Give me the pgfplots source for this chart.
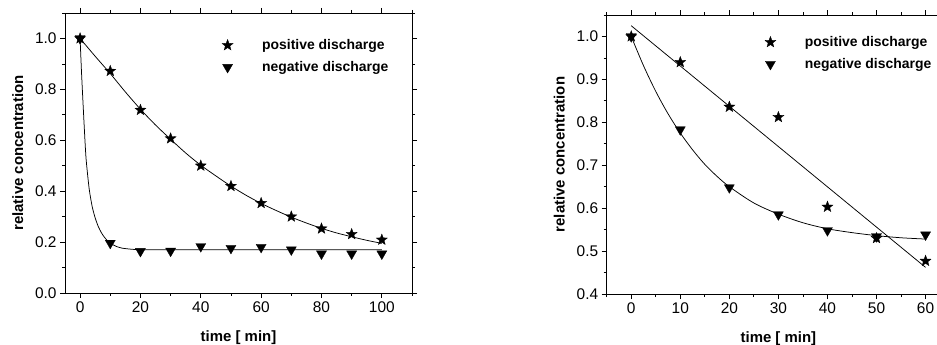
\documentclass[border=0pt]{standalone}
\usepackage{pgfplots}
\pgfplotsset{compat=1.18}
\usepackage{fontspec}
\setmainfont{Liberation Sans}

\pgfdeclareplotmark{fstar}{%
  \pgfpathmoveto{\pgfpointpolar{90}{\pgfplotmarksize}}%
  \pgfpathlineto{\pgfpointpolar{126}{0.42\pgfplotmarksize}}%
  \pgfpathlineto{\pgfpointpolar{162}{\pgfplotmarksize}}%
  \pgfpathlineto{\pgfpointpolar{198}{0.42\pgfplotmarksize}}%
  \pgfpathlineto{\pgfpointpolar{234}{\pgfplotmarksize}}%
  \pgfpathlineto{\pgfpointpolar{270}{0.42\pgfplotmarksize}}%
  \pgfpathlineto{\pgfpointpolar{306}{\pgfplotmarksize}}%
  \pgfpathlineto{\pgfpointpolar{342}{0.42\pgfplotmarksize}}%
  \pgfpathlineto{\pgfpointpolar{18}{\pgfplotmarksize}}%
  \pgfpathlineto{\pgfpointpolar{54}{0.42\pgfplotmarksize}}%
  \pgfpathclose
  \pgfusepathqfillstroke
}

\pgfplotsset{
  common/.style={
    scale only axis,
    tick align=outside,
    axis line style={line width=0.9bp},
    every tick/.style={line width=0.8bp, black},
    major tick length=5bp,
    minor tick length=3bp,
    /pgf/number format/assume math mode=true,
    xticklabel={\pgfmathprintnumber{\tick}},
    yticklabel={\pgfmathprintnumber[fixed, fixed zerofill, precision=1]{\tick}},
    tick label style={font=\fontsize{15.5}{18}\selectfont},
    label style={font=\bfseries\fontsize{15}{18}\selectfont},
    xlabel style={yshift=-11bp},
    ylabel style={yshift=5bp},
    legend cell align=left,
    legend style={draw=none, fill=none, font=\bfseries\fontsize{14}{17}\selectfont,
      row sep=6bp,
      nodes={inner sep=1bp, text height=11bp, text depth=3bp},
      /tikz/every odd column/.style={column sep=28bp}},
  },
  starstyle/.style={only marks, mark=fstar, mark size=5.8bp, black, mark options={line width=0.3bp}},
  tristyle/.style={only marks, mark=triangle*, mark size=5.8bp, black, mark options={rotate=180, line width=0.3bp}},
  fitstyle/.style={no marks, black, line width=0.75bp, smooth, tension=0.5, forget plot},
}

\begin{document}
\begin{tikzpicture}
\path[use as bounding box] (0,0) rectangle (937bp,345bp);

% ---------- left chart ----------
\begin{axis}[common,
  at={(65bp,52bp)}, anchor=south west,
  width=347bp, height=280bp,
  xmin=-5, xmax=110, ymin=0, ymax=1.1,
  xtick={0,20,...,100}, minor xtick={10,30,...,110},
  ytick={0,0.2,...,1.0}, minor ytick={0.1,0.3,...,1.1},
  xlabel={time [ min]}, ylabel={relative concentration},
  legend style={at={(axis cs:46.0,0.93)}, anchor=west},
]
\addplot[fitstyle] coordinates {
 (0,1.0) (5,0.93) (10,0.862) (15,0.79) (20,0.722) (25,0.66) (30,0.604) (35,0.55)
 (40,0.502) (45,0.46) (50,0.42) (55,0.384) (60,0.352) (65,0.324) (70,0.298)
 (75,0.275) (80,0.254) (85,0.236) (90,0.221) (95,0.207) (100,0.195)};
\addplot[fitstyle, tension=0.4] coordinates {
 (0,1.0) (0.5,0.86) (1,0.74) (1.5,0.625) (2,0.525) (3,0.41) (4,0.34) (5,0.295)
 (6,0.262) (7,0.238) (8,0.22) (9,0.206) (10,0.196) (12,0.183) (14,0.176)
 (17,0.172) (20,0.170) (30,0.170) (50,0.170) (70,0.170) (100,0.170)};
\addplot[starstyle] coordinates {
 (0,1.0) (10,0.872) (20,0.719) (30,0.607) (40,0.50) (50,0.42) (60,0.353)
 (70,0.30) (80,0.253) (90,0.231) (100,0.209)};
\addlegendentry{positive discharge}
\addplot[tristyle] coordinates {
 (0,1.0) (10,0.196) (20,0.164) (30,0.165) (40,0.183) (50,0.176) (60,0.180)
 (70,0.170) (80,0.154) (90,0.154) (100,0.154)};
\addlegendentry{negative discharge}
\end{axis}

% ---------- right chart ----------
\begin{axis}[common,
  at={(606.7bp,51bp)}, anchor=south west,
  width=343.4bp, height=279bp,
  xmin=-5, xmax=65, ymin=0.4, ymax=1.05,
  xtick={0,10,...,60}, minor xtick={-5,5,...,65},
  ytick={0.4,0.5,...,1.0}, minor ytick={0.45,0.55,...,1.05},
  xlabel={time [ min]}, ylabel={relative concentration},
  legend style={at={(axis cs:26.6,0.961)}, anchor=west},
]
\addplot[no marks, black, line width=0.75bp, forget plot] coordinates {
 (0,1.025) (60,0.462)};
\addplot[fitstyle] coordinates {
 (0,1.0) (2.5,0.932) (5,0.872) (7.5,0.82) (10,0.775) (12.5,0.736) (15,0.702)
 (17.5,0.674) (20,0.650) (25,0.612) (30,0.586) (35,0.566) (40,0.552) (45,0.543)
 (50,0.536) (55,0.531) (60,0.528)};
\addplot[starstyle] coordinates {
 (0,1.0) (10,0.94) (20,0.836) (30,0.812) (40,0.603) (50,0.530) (60,0.477)};
\addlegendentry{positive discharge}
\addplot[tristyle] coordinates {
 (0,1.0) (10,0.783) (20,0.648) (30,0.585) (40,0.548) (50,0.534) (60,0.538)};
\addlegendentry{negative discharge}
\end{axis}
\end{tikzpicture}
\end{document}
